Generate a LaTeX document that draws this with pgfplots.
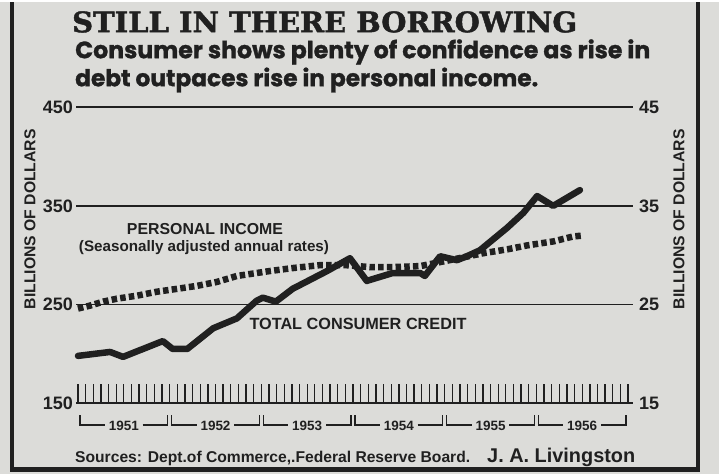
\documentclass[border=0pt]{standalone}
\usepackage{fontspec}
\usepackage{pgfplots}
\pgfplotsset{compat=1.18}
\setmainfont{Liberation Sans}
\newfontfamily\titlefont{DejaVu Serif}[BoldFeatures={FakeBold=1.5}]
\newfontfamily\subfont{Poppins}[BoldFeatures={FakeBold=1.2}]
\definecolor{paper}{RGB}{220,220,217}
\definecolor{ink}{RGB}{32,32,32}

\pgfplotstableread{
m v
0 246
1.6 249
3.3 253
5.1 256
7.7 259
10.3 263
13.0 266
15.6 269
18.2 273
20.8 279
23.4 282
25.1 284
28.1 287
31.7 290
35.0 290
38.2 288
41.2 288
44.8 289
48.0 294
53.0 302
56.2 306
58.8 310
62.2 314
64.8 319
66.1 320
}\income

\pgfplotstableread{
m v
0 19.8
4.2 20.2
5.9 19.7
11.1 21.3
12.4 20.5
14.3 20.5
17.7 22.6
20.8 23.6
23.4 25.4
24.2 25.7
25.9 25.3
28.1 26.6
32.6 28.4
35.6 29.7
37.8 27.4
41.2 28.2
44.8 28.2
45.4 27.9
47.4 29.9
49.6 29.5
50.9 29.9
52.6 30.5
56.2 32.8
58.3 34.3
60.1 36.0
62.2 35.0
65.7 36.6
}\credit

\begin{document}
\begin{tikzpicture}[x=1pt,y=1pt]
\fill[paper] (0,0) rectangle (719,472);
\draw[ink,line width=4.5pt] (12,472) -- (12,5) -- (698,5) -- (698,472);

\node[anchor=base west, inner sep=0, text=ink] at (72,442)
  {\resizebox{505pt}{21pt}{\titlefont\bfseries STILL IN THERE BORROWING}};
\node[anchor=base west, inner sep=0, text=ink] at (75,416)
  {\resizebox{575pt}{!}{\subfont\bfseries Consumer shows plenty of confidence as rise in}};
\node[anchor=base west, inner sep=0, text=ink] at (75,388)
  {\resizebox{463pt}{!}{\subfont\bfseries debt outpaces rise in personal income.}};

\begin{axis}[at={(76pt,71pt)}, anchor=south west, scale only axis,
  width=557pt, height=296pt,
  xmin=-0.26, xmax=72.65, ymin=150, ymax=450,
  axis line style={draw=none}, clip=false,
  xtick={0,1,...,72}, xticklabels={}, xtick pos=left,
  tick align=inside, major tick length=19pt,
  xtick style={ink, line width=1.3pt},
  ytick={150,250,350,450}, ytick pos=left, ytick style={draw=none},
  ymajorgrids, grid style={ink, line width=1.6pt},
  /pgf/number format/assume math mode=true,
  yticklabel style={font=\bfseries\fontsize{18}{18}\selectfont, text=ink, inner sep=3pt},
]
\addplot[ink, line width=6.5pt, dash pattern=on 5.5pt off 3.2pt] table[x=m,y=v] {\income};
\end{axis}

\begin{axis}[at={(76pt,71pt)}, anchor=south west, scale only axis,
  width=557pt, height=296pt,
  xmin=-0.26, xmax=72.65, ymin=15, ymax=45,
  axis line style={draw=none}, clip=false,
  xtick=\empty,
  ytick={15,25,35,45}, yticklabel pos=right, ytick style={draw=none},
  /pgf/number format/assume math mode=true,
  yticklabel style={font=\bfseries\fontsize{18}{18}\selectfont, text=ink, inner sep=6pt},
]
\addplot[ink, line width=6.5pt, line join=round, line cap=round] table[x=m,y=v] {\credit};
\end{axis}

% annotations
\node[text=ink, inner sep=0] at (205,245) {\resizebox{156pt}{!}{\bfseries PERSONAL INCOME}};
\node[text=ink, inner sep=0] at (204,227) {\resizebox{250pt}{!}{\bfseries (Seasonally adjusted annual rates)}};
\node[text=ink, inner sep=0] at (358,150) {\resizebox{217pt}{!}{\bfseries TOTAL CONSUMER CREDIT}};

\node[text=ink, rotate=90, inner sep=0] at (30,255) {\resizebox{180pt}{!}{\bfseries BILLIONS OF DOLLARS}};
\node[text=ink, rotate=90, inner sep=0] at (679,255) {\resizebox{180pt}{!}{\bfseries BILLIONS OF DOLLARS}};

% year brackets
\foreach \k/\yr in {0/1951,1/1952,2/1953,3/1954,4/1955,5/1956}{
  \pgfmathsetmacro{\xa}{78+91.67*\k}
  \pgfmathsetmacro{\xb}{\xa+91.67}
  \pgfmathsetmacro{\xc}{\xa+45.83}
  \draw[ink, line width=1.6pt] (\xa+2,59) -- (\xa+2,49) -- (\xa+27,49);
  \draw[ink, line width=1.6pt] (\xb-27,49) -- (\xb-2,49) -- (\xb-2,59);
  \node[text=ink, inner sep=0] at (\xc,48) {\resizebox{30pt}{!}{\bfseries \yr}};
}

\node[anchor=base west, inner sep=0, text=ink] at (75,12)
  {\resizebox{395pt}{!}{\bfseries Sources: Dept.of Commerce,.Federal Reserve Board.}};
\node[anchor=base west, inner sep=0, text=ink] at (487,12)
  {\resizebox{148pt}{!}{\bfseries J. A. Livingston}};
\end{tikzpicture}
\end{document}
